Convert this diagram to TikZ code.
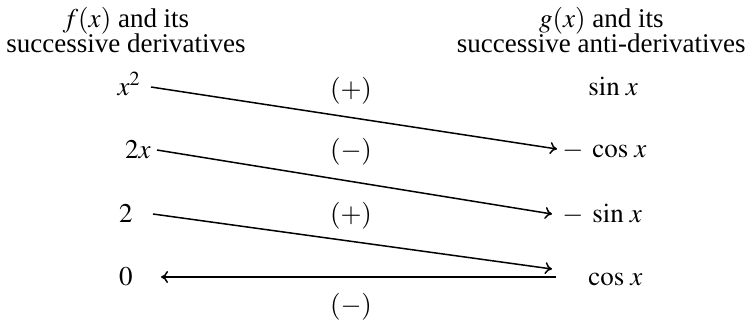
\documentclass[tikz,border=0pt]{standalone}
\usepackage{mathptmx}
\usepackage{fontspec}
\setmainfont{Liberation Serif}
\usetikzlibrary{arrows,arrows.meta}

\tikzset{
  txt/.style={inner sep=0pt, font=\fontsize{13.5}{15}\selectfont},
  fx/.style={txt, anchor=base east, text height=8pt, text depth=0pt},
  gx/.style={txt, anchor=base west, text height=8pt, text depth=0pt},
  sgn/.style={txt, anchor=base},
  arr/.style={-{To[length=3.5pt,width=6pt]}, line width=0.75pt}
}

\begin{document}
\begin{tikzpicture}[x=0.5pt,y=-0.5pt]
	\useasboundingbox (0,0) rectangle (750,328);
	% headers
		\node[txt, anchor=base] (fhead2) at (126,52) {successive derivatives};
		\path (fhead2.base) ++(0,-25) node[txt, anchor=base] (fhead1) {$f(x)$ and its};
		\node[txt, anchor=base east] (ghead2) at (746,52) {successive anti-derivatives};
		\path (ghead2.base) ++(0,-25) node[txt, anchor=base] (ghead1) {$g(x)$ and its};
	% f(x) column
		\node[fx] (xsq) at (141,95) {$x^2$};
		\node[fx] (dx) at (151,158) {$2x$};
		\node[fx] (two) at (133,222) {$2$};
		\node[fx] (zero) at (133,285) {$0$};
	% g(x) column
		\node[gx] (sinx) at (588,95) {$\sin\,x$};
		\node[gx] (mcos) at (562,157) {$-\;\cos\,x$};
		\node[gx] (msin) at (562,222) {$-\;\sin\,x$};
		\node[gx] (cosx) at (588,285) {$\cos\,x$};
	% signs
		\node[sgn] (s1) at (351,97) {$(+)$};
		\node[sgn] (s2) at (351,158) {$(-)$};
		\node[sgn] (s3) at (351,222) {$(+)$};
		\node[sgn] (s4) at (351,313) {$(-)$};
		\coordinate (tip) at (552,269);
	% arrows
		\draw[arr] ([xshift=5pt]xsq.east) -- ([xshift=-2.5pt]mcos.west);
		\draw[arr] ([xshift=3pt]dx.east) -- ([xshift=-5pt]msin.west);
		\draw[arr] ([xshift=10pt]two.east) -- (tip);
		\draw[arr] ([xshift=-16pt]cosx.west) -- ([xshift=14pt]zero.east);
\end{tikzpicture}
\end{document}
